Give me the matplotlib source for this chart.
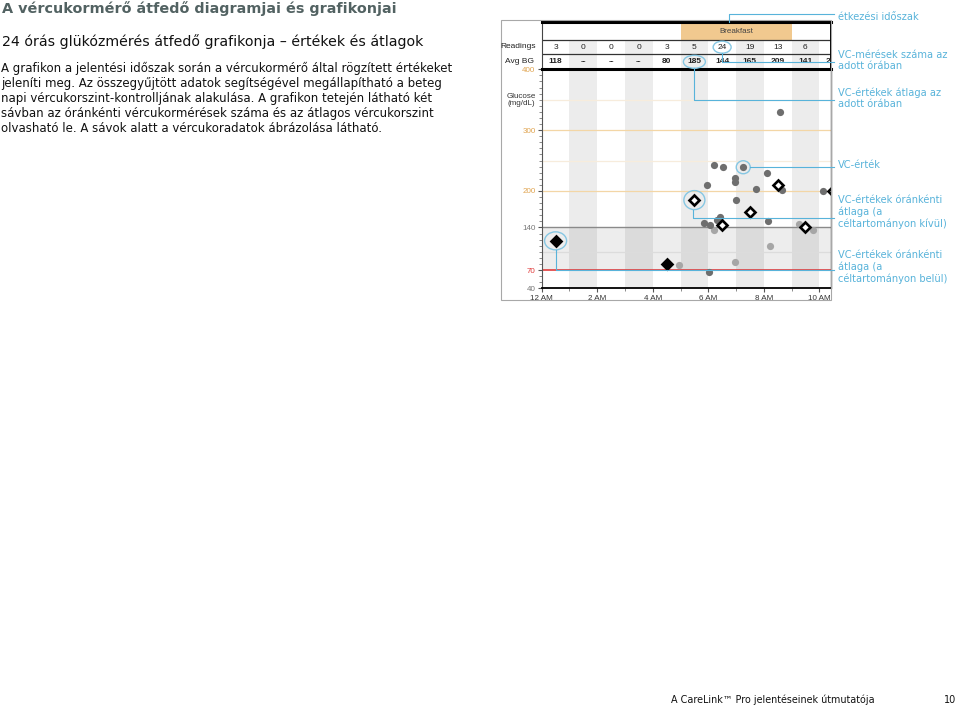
import matplotlib
matplotlib.use("Agg")
import matplotlib.pyplot as plt
from matplotlib.patches import Rectangle, Ellipse
from matplotlib.lines import Line2D

# --- data ---
hour_labels = ['12 AM', '2 AM', '4 AM', '6 AM', '8 AM', '10 AM']
hour_label_pos = [0, 2, 4, 6, 8, 10]
readings = [3, 0, 0, 0, 3, 5, 24, 19, 13, 6, 2]
avg_text = ['118', '--', '--', '--', '80', '185', '144', '165', '209', '141', '200']

avg_hours = [0.5, 4.5, 5.5, 6.5, 7.5, 8.5, 9.5, 10.5]
avg_values = [118, 80, 185, 144, 165, 209, 141, 200]

dot_hours = [6.22, 6.54, 7.26, 8.13, 6.96, 6.96, 5.94, 7.71, 8.65, 10.12,
             7.0, 6.42, 6.33, 5.85, 6.06, 8.14, 6.04, 8.6]
dot_values = [242, 240, 239, 230, 221, 214, 210, 203, 202, 200,
              185, 158, 152, 148, 144, 151, 67, 329]
light_hours = [6.22, 8.22, 6.98, 4.95, 9.28, 9.76]
light_values = [136, 110, 83, 79, 145, 136]

meal_name = 'Breakfast'
meal_start, meal_end = 5, 9
target_low, target_high = 70, 140

W, H = 959, 708
fig = plt.figure(figsize=(W / 100, H / 100), dpi=100)


def fx(x):
    return x / W


def fy(y):
    return 1 - y / H


BLUE = '#58b3da'
RING = '#86c7e3'

# ---------------- left text ----------------
fig.text(fx(2), fy(9), 'A vércukormérő átfedő diagramjai és grafikonjai',
         fontsize=10.4, fontweight='bold', color='#526262', va='center')
fig.text(fx(2), fy(42), '24 órás glükózmérés átfedő grafikonja – értékek és átlagok',
         fontsize=10.2, color='#111111', va='center')
body = ['A grafikon a jelentési időszak során a vércukormérő által rögzített értékeket',
        'jeleníti meg. Az összegyűjtött adatok segítségével megállapítható a beteg',
        'napi vércukorszint-kontrolljának alakulása. A grafikon tetején látható két',
        'sávban az óránkénti vércukormérések száma és az átlagos vércukorszint',
        'olvasható le. A sávok alatt a vércukoradatok ábrázolása látható.']
for i, line in enumerate(body):
    fig.text(fx(1), fy(68 + 15.2 * i), line, fontsize=8.5, color='#111111', va='center')

fig.text(fx(671), fy(700), 'A CareLink™ Pro jelentéseinek útmutatója', fontsize=6.9,
         color='#111111', va='center')
fig.text(fx(944), fy(700), '10', fontsize=6.9, color='#111111', va='center')

# ---------------- chart ----------------
PL, PR, PT, PB, HT = 541.7, 831, 69.3, 288.3, 22
XMAX = (PR - PL) / 27.76

fig.add_artist(Rectangle((fx(501), fy(300)), (831 - 501) / W, (300 - 20) / H,
                         transform=fig.transFigure, fill=False, ec='#a8a8a8', lw=0.8))

ax = fig.add_axes([fx(PL), fy(PB), (PR - PL) / W, (PB - PT) / H])
ax.set_xlim(0, XMAX)
ax.set_ylim(40, 400)
for h in range(1, 11, 2):
    ax.axvspan(h, h + 1, color='#ececec', lw=0, zorder=0)
ax.axhspan(target_low, target_high, color='black', alpha=0.07, lw=0, zorder=0.5)
for g, c in [(350, '#f7ecdc'), (300, '#f3d6a6'), (250, '#f7ecdc'), (200, '#f3d6a6'),
             (100, '#dcdcdc')]:
    ax.axhline(g, color=c, lw=0.9, zorder=1)
ax.axhline(target_high, color='#8a8a8a', lw=1.0, zorder=1)
ax.axhline(target_low, color='#e23c3c', lw=1.2, zorder=1)

ax.plot(light_hours, light_values, 'o', ms=5.2, color='#a6a6a6', mec='none', zorder=3)
ax.plot(dot_hours, dot_values, 'o', ms=5.2, color='#6e6e6e', mec='none', zorder=3)
for h, v in zip(avg_hours, avg_values):
    inside = target_low <= v <= target_high
    ax.plot(h, v, 'D', ms=5.6 if inside else 5.2, mfc='black' if inside else 'white',
            mec='black', mew=1.9, zorder=4)

ax.set_yticks([40, 70, 140, 200, 300, 400])
ax.set_yticks(range(40, 401, 10), minor=True)
ax.set_xticks(hour_label_pos)
ax.set_xticklabels(hour_labels)
ax.set_xticks(range(0, 11), minor=True)
ytick_colors = ['#777777', '#e03a3a', '#777777', '#e0a450', '#e0a450', '#e0a450']
ax.set_yticklabels(['40', '70', '140', '200', '300', '400'])
for lab, c in zip(ax.get_yticklabels(), ytick_colors):
    lab.set_color(c)
ax.tick_params(axis='both', which='major', length=3, width=0.8, labelsize=5.8,
               pad=1.5, color='#555555')
ax.tick_params(axis='both', which='minor', length=2, width=0.6, color='#777777')
ax.tick_params(axis='x', labelcolor='#333333')
for lab in ax.get_xticklabels() + ax.get_yticklabels():
    lab.set_family('Liberation Sans')
ax.spines['top'].set_visible(False)
ax.spines['bottom'].set_color('black')
ax.spines['bottom'].set_linewidth(1.3)
ax.spines['left'].set_color('#555555')
ax.spines['left'].set_linewidth(0.8)
ax.spines['right'].set_color('#555555')
ax.spines['right'].set_linewidth(1.0)

fig.text(fx(521), fy(100), 'Glucose\n(mg/dL)', fontsize=5.8, family='Liberation Sans',
         ha='center', va='center', color='#333333', linespacing=1.1)

# header table
hx = fig.add_axes([fx(PL), fy(PT), (PR - PL) / W, (PT - HT) / H])
hx.set_xlim(0, XMAX)
hx.set_ylim(PT - HT, 0)
hx.set_xticks([])
hx.set_yticks([])
for h in range(1, 11, 2):
    hx.add_patch(Rectangle((h, 18), 1, PT - HT - 18, fc='#eeeeee', lw=0, zorder=0))
hx.add_patch(Rectangle((meal_start, 0), meal_end - meal_start, 18, fc='#f1c98f', lw=0, zorder=0))
hx.text((meal_start + meal_end) / 2, 9.5, meal_name, fontsize=5.8, family='Liberation Sans',
        ha='center', va='center', color='#444444')
hx.axhline(18, color='#333333', lw=0.9)
hx.axhline(32, color='#333333', lw=0.9)
for i, (r, a) in enumerate(zip(readings, avg_text)):
    hx.text(i + 0.5, 25.2, str(r), fontsize=6, family='Liberation Sans', ha='center',
            va='center', color='#222222', clip_on=True)
    hx.text(i + 0.5, 39.8, a, fontsize=6, family='Liberation Sans', fontweight='bold',
            ha='center', va='center', color='#222222', clip_on=True)
hx.spines['top'].set_linewidth(2.2)
hx.spines['top'].set_color('black')
hx.spines['bottom'].set_linewidth(2.2)
hx.spines['bottom'].set_color('black')
hx.spines['left'].set_color('#444444')
hx.spines['left'].set_linewidth(0.8)
hx.spines['right'].set_color('black')
hx.spines['right'].set_linewidth(1.4)
fig.text(fx(536), fy(47), 'Readings', fontsize=6, family='Liberation Sans', ha='right',
         va='center', color='#222222')
fig.text(fx(534), fy(61.5), 'Avg BG', fontsize=6, family='Liberation Sans', ha='right',
         va='center', color='#222222')


# ---------------- callouts ----------------
def to_px(axis, x, y):
    dx, dy = axis.transData.transform((x, y))
    return dx, H - dy


def path(points):
    fig.add_artist(Line2D([fx(p[0]) for p in points], [fy(p[1]) for p in points],
                          transform=fig.transFigure, color=BLUE, lw=0.8, zorder=10))


def ring(cx, cy, w, h):
    fig.add_artist(Ellipse((fx(cx), fy(cy)), w / W, h / H, transform=fig.transFigure,
                           fill=False, ec=RING, lw=1.0, zorder=10))


XE = 834
# meal period
mx, my = to_px(hx, 6.75, 0)
path([(mx, my), (mx, 14), (XE, 14)])
# readings count
rx, ry = to_px(hx, 6.5, 25.2)
ring(rx, ry, 18, 12)
path([(rx, ry + 6), (rx, 62), (XE, 62)])
# hourly average text
bx, by = to_px(hx, 5.5, 39.8)
ring(bx, by, 22, 13)
path([(bx, by + 6.5), (bx, 100), (XE, 100)])
# single reading
dx_, dy_ = to_px(ax, dot_hours[2], dot_values[2])
ring(dx_, dy_, 14, 13)
path([(dx_ + 7, dy_), (XE, dy_)])
# average outside target
ox, oy = to_px(ax, avg_hours[2], avg_values[2])
ring(ox, oy, 21, 19)
path([(ox - 1.5, oy + 9.5), (ox - 1.5, 218), (XE, 218)])
# average inside target
ix, iy = to_px(ax, avg_hours[0], avg_values[0])
ring(ix, iy, 22, 18)
path([(ix, iy + 9), (ix, 270), (XE, 270)])

labels = [(17, 'étkezési időszak'),
          (60.5, 'VC-mérések száma az\nadott órában'),
          (98.5, 'VC-értékek átlaga az\nadott órában'),
          (165, 'VC-érték'),
          (212, 'VC-értékek óránkénti\nátlaga (a\ncéltartományon kívül)'),
          (267, 'VC-értékek óránkénti\nátlaga (a\ncéltartományon belül)')]
for y, t in labels:
    fig.text(fx(838), fy(y), t, fontsize=7.1, color=BLUE, va='center', linespacing=1.12)

fig.savefig('out.png', dpi=100)
